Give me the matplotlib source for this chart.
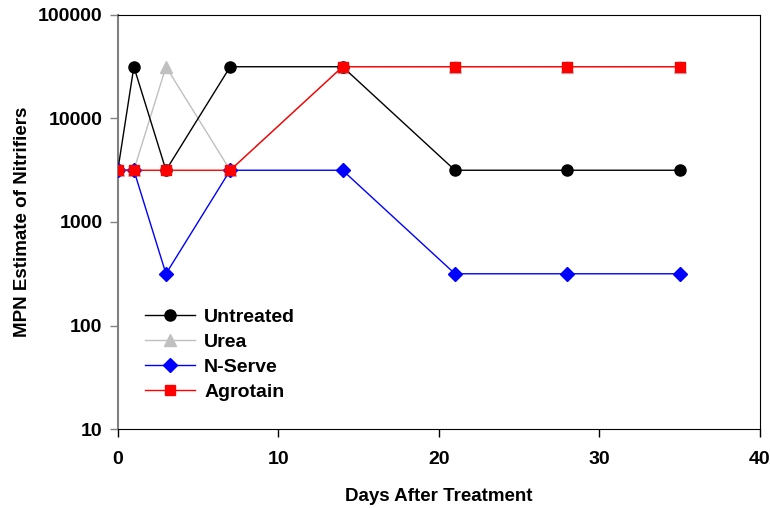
import matplotlib
matplotlib.use("Agg")
import matplotlib.pyplot as plt
from matplotlib.ticker import FixedLocator, FixedFormatter, NullLocator

# data (log scale)
days = [0, 1, 3, 7, 14, 21, 28, 35]
untreated = [3162, 31623, 3162, 31623, 31623, 3162, 3162, 3162]
urea = [3162, 3162, 31623, 3162, 31623, 31623, 31623, 31623]
nserve = [3162, 3162, 316, 3162, 3162, 316, 316, 316]
agrotain = [3162, 3162, 3162, 3162, 31623, 31623, 31623, 31623]

y_ticks = [10, 100, 1000, 10000, 100000]
y_labels = ['10', '100', '1000', '10000', '100000']
x_ticks = [0, 10, 20, 30, 40]

plt.rcParams['font.family'] = ['Liberation Sans', 'DejaVu Sans']
plt.rcParams['font.weight'] = 'bold'

fig = plt.figure(figsize=(7.7, 5.08), dpi=100)
ax = fig.add_axes([0.153, 0.1555, 0.834, 0.815])

ax.plot(days, untreated, color='black', lw=1, marker='o', ms=8, label='Untreated', zorder=3)
ax.plot(days, urea, color='#c0c0c0', lw=1, marker='^', ms=8, label='Urea', zorder=2)
ax.plot(days, nserve, color='blue', lw=1, marker='D', ms=7, label='N-Serve', zorder=4)
ax.plot(days, agrotain, color='red', lw=1, marker='s', ms=7, label='Agrotain', zorder=5)

ax.set_yscale('log')
ax.set_ylim(10, 100000)
ax.set_xlim(0, 40)
ax.yaxis.set_major_locator(FixedLocator(y_ticks))
ax.yaxis.set_major_formatter(FixedFormatter(y_labels))
ax.yaxis.set_minor_locator(NullLocator())
ax.set_xticks(x_ticks)

ax.tick_params(axis='both', labelsize=14, direction='out', length=6, width=1)
ax.tick_params(axis='y', color='#808080', pad=5)
ax.tick_params(axis='x', pad=10)
ax.spines['left'].set_color('#808080')
ax.spines['left'].set_linewidth(1.5)
for s in ['top', 'right', 'bottom']:
    ax.spines[s].set_color('black')
    ax.spines[s].set_linewidth(0.8)

ax.set_xlabel('Days After Treatment', fontsize=13.5, fontweight='bold', labelpad=14)
ax.set_ylabel('MPN Estimate of Nitrifiers', fontsize=13.5, fontweight='bold', labelpad=5)

ax.legend(loc='lower left', bbox_to_anchor=(0.015, 0.025), frameon=False, fontsize=14,
          handlelength=2.6, handletextpad=0.45, labelspacing=0.38)

fig.savefig('out.png', dpi=100)
